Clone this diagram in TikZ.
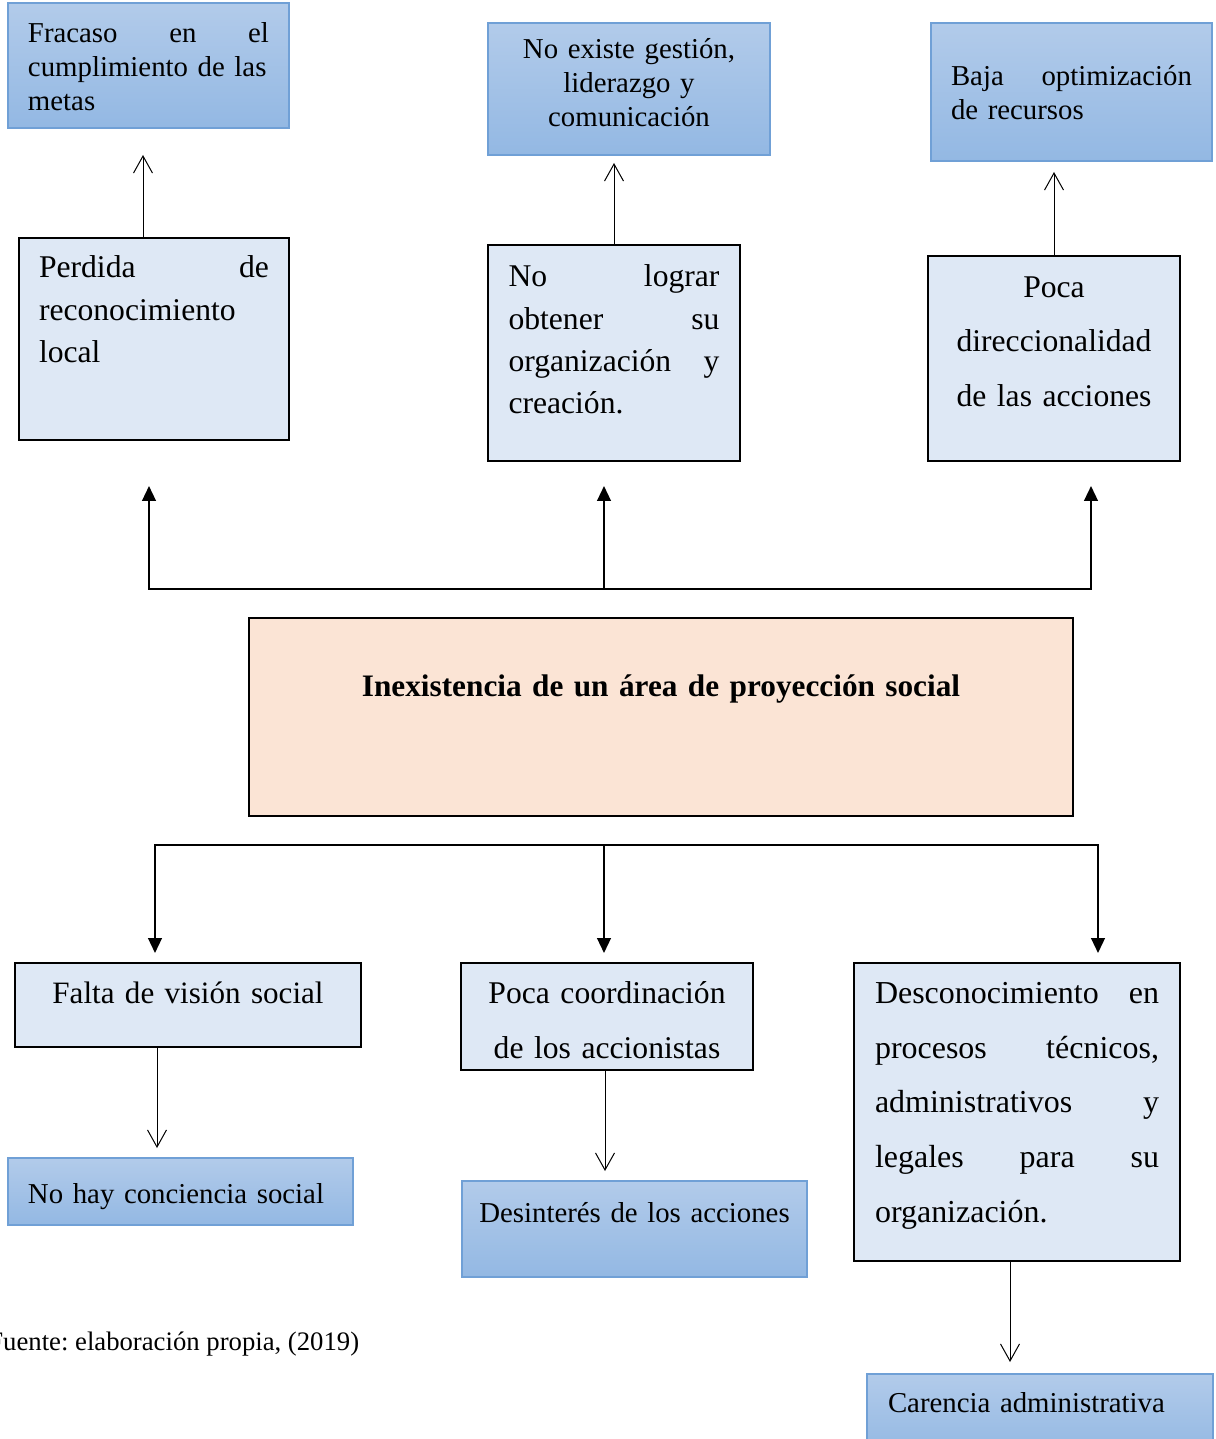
\documentclass[tikz,border=0pt]{standalone}
\usepackage{fontspec}
\setmainfont{Liberation Serif}
\usetikzlibrary{arrows.meta}
\frenchspacing

\newlength{\px}\setlength{\px}{0.02cm}
\newcommand{\jl}[1]{\leavevmode\hbox to\hsize{#1}}

\definecolor{efTop}{RGB}{178,203,234}
\definecolor{efBot}{RGB}{147,184,227}
\definecolor{efEdge}{RGB}{112,160,214}
\definecolor{causaFill}{RGB}{222,232,245}
\definecolor{centroFill}{RGB}{251,228,213}

\tikzset{
	efecto/.style={draw=efEdge,line width=1.5\px,top color=efTop,bottom color=efBot,anchor=north west,inner xsep=20\px,inner ysep=0pt,outer sep=0pt},
	causa/.style={draw=black,line width=2\px,fill=causaFill,anchor=north west,inner xsep=20\px,inner ysep=0pt,outer sep=0pt},
	chica/.style={font=\fontsize{16.4}{19.3}\selectfont},
	media/.style={font=\fontsize{18}{24}\selectfont},
	alta/.style={font=\fontsize{18}{31.3}\selectfont},
	conn/.style={line width=2\px},
	flecha/.style={line width=1\px,-{Straight Barb[length=9.7pt,width=10.8pt]}},
	flechaN/.style={line width=2\px,-{Triangle[length=8.5pt,width=7.8pt]}},
}

\begin{document}
\begin{tikzpicture}[x=0.02cm,y=-0.02cm]
	\useasboundingbox (0,0) rectangle (1215,1439);

	% efectos
	\node [efecto,chica,align=left,text width=241\px,text height=40\px,text depth=85\px] at (8,3) (fracaso) {\jl{Fracaso\hfil en\hfil el}\\\jl{cumplimiento de las}\\metas};
	\node [efecto,chica,align=center,text width=242\px,text height=36\px,text depth=96\px] at (488,23) (noexiste) {No existe gestión,\\liderazgo y\\comunicación};
	\node [efecto,chica,align=left,text width=241\px,text height=63\px,text depth=75\px] at (931,23) (baja) {\jl{Baja\hfil optimización}\\de recursos};

	\node [causa,media,align=left,text width=230\px,text height=40\px,text depth=162\px] at (19,238) (perdida) {\jl{Perdida\hfil de}\\reconocimiento\\local};
	\node [causa,media,align=left,text width=211\px,inner xsep=20.5\px,text height=42\px,text depth=174\px] at (488,245) (nolograr) {\jl{No\hfil lograr}\\\jl{obtener\hfil su}\\\jl{organización\hfil y}\\creación.};
	\node [causa,alta,align=center,text width=212\px,text height=41\px,text depth=164\px] at (928,256) (poca) {Poca\\direccionalidad\\de las acciones};

	% problema central
	\node [draw=black,line width=2\px,fill=centroFill,anchor=north west,inner xsep=20\px,inner ysep=0pt,outer sep=0pt,
		font=\fontsize{17.8}{24}\selectfont\bfseries,align=center,text width=784\px,text height=78\px,text depth=120\px] at (249,618) (centro) {Inexistencia de un área de proyección social};

	% causas
	\node [causa,font=\fontsize{17.7}{31.3}\selectfont,align=center,text width=306\px,text height=40\px,text depth=44\px] at (15,963) (falta) {Falta de visión social};
	\node [causa,alta,align=center,text width=252\px,text height=40\px,text depth=67\px] at (461,963) (pococoord) {Poca coordinación\\de los accionistas};
	\node [causa,font=\fontsize{18.2}{31.3}\selectfont,align=left,text width=284\px,inner xsep=21\px,text height=40\px,text depth=258\px] at (854,963) (descon) {\jl{Desconocimiento\hfil en}\\\jl{procesos\hfil técnicos,}\\\jl{administrativos\hfil y}\\\jl{legales\hfil para\hfil su}\\organización.};

	\node [efecto,chica,align=left,text width=305\px,text height=45\px,text depth=22\px] at (8,1158) (nohay) {No hay conciencia social};
	\node [efecto,chica,align=center,text width=335\px,inner xsep=5\px,text height=41\px,text depth=55\px] at (462,1181) (desinteres) {Desinterés de los acciones};
	\node [efecto,chica,align=left,text width=304\px,inner xsep=21\px,text height=38\px,text depth=42\px] at (867,1374) (carencia) {Carencia administrativa};

	\node [font=\fontsize{15.2}{19}\selectfont,anchor=base west,inner sep=0pt] at (-12,1350) (fuente) {Fuente: elaboración propia, (2019)};

	% conectores superiores
	\coordinate (efL) at (149,589);
	\coordinate (efC) at (604,589);
	\coordinate (efR) at (1091,589);
	\draw[conn,line cap=rect] (efL) -- (efR);
	\draw[flechaN,shorten >=46\px] (efL) -- (efL |- perdida.south);
	\draw[flechaN,shorten >=25\px] (efC) -- (efC |- nolograr.south);
	\draw[flechaN,shorten >=25\px] (efR) -- (efR |- poca.south);

	% conectores inferiores
	\coordinate (caL) at (155,845);
	\coordinate (caC) at (604,845);
	\coordinate (caR) at (1098,845);
	\draw[conn,line cap=rect] (caL) -- (caR);
	\draw[flechaN,shorten >=10\px] (caL) -- (caL |- falta.north);
	\draw[flechaN,shorten >=10\px] (caC) -- (caC |- pococoord.north);
	\draw[flechaN,shorten >=10\px] (caR) -- (caR |- descon.north);

	\draw[flecha,shorten >=27\px] ([xshift=-11\px]perdida.north) -- ([xshift=-11\px]perdida.north |- fracaso.south);
	\draw[flecha,shorten >=8\px] (nolograr.north) -- (nolograr.north |- noexiste.south);
	\draw[flecha,shorten >=11\px] (poca.north) -- (poca.north |- baja.south);

	\draw[flecha,shorten >=10\px] ([xshift=-31\px]falta.south) -- ([xshift=-31\px]falta.south |- nohay.north);
	\draw[flecha,shorten >=10\px] ([xshift=-2\px]pococoord.south) -- ([xshift=-2\px]pococoord.south |- desinteres.north);
	\draw[flecha,shorten >=12\px] ([xshift=-7\px]descon.south) -- ([xshift=-7\px]descon.south |- carencia.north);
\end{tikzpicture}
\end{document}
